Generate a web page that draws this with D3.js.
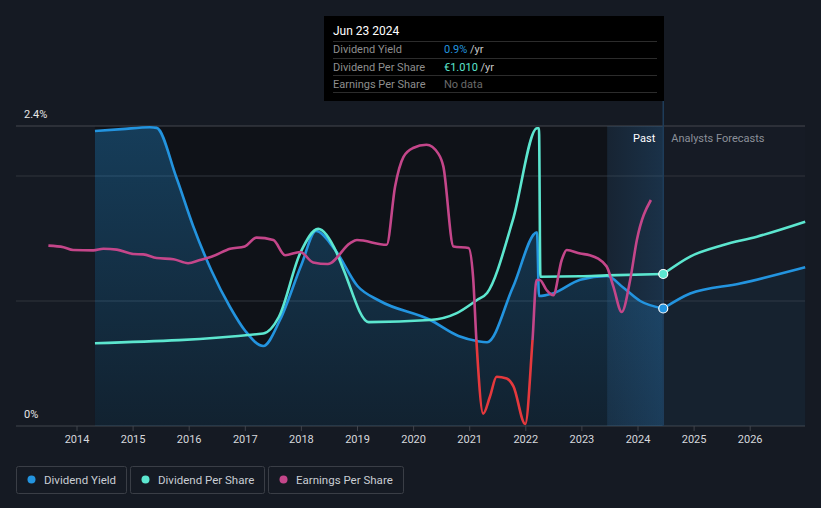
<!DOCTYPE html>
<html>
<head>
<meta charset="utf-8">
<script src="https://cdn.jsdelivr.net/npm/d3@7"></script>
<style>
  html, body { margin: 0; padding: 0; background: #151a23; }
  svg { display: block; font-family: Roboto, "Noto Sans", sans-serif; }
</style>
</head>
<body>
<svg id="chart" width="821" height="508"></svg>
<script>
// ---------- DATA ----------
const yearTicks = [2014, 2015, 2016, 2017, 2018, 2019, 2020, 2021, 2022, 2023, 2024, 2025, 2026];
const yieldTickLabels = ["0%", "2.4%"];

// Dividend yield (%), decimal year
const yieldYears = [2014.32, 2014.8, 2015.3, 2015.42, 2015.77, 2016.07, 2016.4, 2016.73, 2017.0, 2017.32, 2017.62, 2018.0, 2018.26, 2018.6, 2019.0, 2019.4, 2020.29, 2020.8, 2021.13, 2021.31, 2021.77, 2022.2, 2022.235, 2022.48, 2022.97, 2023.45, 2023.73, 2024.04, 2024.45];
const yieldValues = [2.36, 2.375, 2.39, 2.385, 1.99, 1.6, 1.24, 0.95, 0.76, 0.64, 0.85, 1.29, 1.56, 1.41, 1.12, 1.0, 0.85, 0.72, 0.68, 0.67, 1.11, 1.55, 1.04, 1.06, 1.17, 1.2, 1.11, 1.0, 0.94];
const yieldFcYears = [2024.45, 2024.93, 2025.82, 2026.98];
const yieldFcValues = [0.94, 1.06, 1.14, 1.27];

// Dividend per share (EUR)
const dpsYears = [2014.32, 2017.32, 2017.6, 2017.98, 2018.3, 2018.63, 2018.75, 2019.2, 2020.29, 2020.77, 2021.13, 2021.31, 2021.77, 2022.2, 2022.235, 2022.26, 2022.97, 2023.45, 2024.45];
const dpsValues = [0.55, 0.615, 0.726, 1.15, 1.31, 1.15, 1.04, 0.69, 0.704, 0.75, 0.837, 0.884, 1.369, 1.978, 1.978, 0.992, 0.995, 1.001, 1.01];
const dpsFcYears = [2024.45, 2024.93, 2025.52, 2026.12, 2026.98];
const dpsFcValues = [1.01, 1.126, 1.203, 1.258, 1.357];

// Earnings per share (EUR)
const epsYears = [2013.49, 2013.76, 2013.93, 2014.29, 2014.47, 2014.71, 2015.0, 2015.18, 2015.42, 2015.72, 2015.98, 2016.19, 2016.43, 2016.73, 2016.99, 2017.2, 2017.5, 2017.71, 2017.98, 2018.21, 2018.47, 2018.87, 2018.99, 2019.52, 2019.67, 2019.82, 2019.99, 2020.23, 2020.44, 2020.53, 2020.71, 2020.98, 2021.06, 2021.12, 2021.24, 2021.36, 2021.48, 2021.66, 2021.78, 2021.99, 2022.12, 2022.19, 2022.25, 2022.37, 2022.49, 2022.64, 2022.73, 2022.97, 2023.14, 2023.44, 2023.56, 2023.71, 2023.86, 2023.98, 2024.23];
const epsValues = [1.18, 1.16, 1.125, 1.12, 1.14, 1.13, 1.075, 1.07, 1.025, 1.01, 0.96, 1.0, 1.05, 1.14, 1.17, 1.28, 1.25, 1.06, 1.10, 0.97, 0.95, 1.21, 1.25, 1.19, 1.92, 2.29, 2.40, 2.44, 2.33, 2.17, 1.17, 1.15, 0.79, -0.01, -0.92, -0.71, -0.46, -0.48, -0.58, -1.05, 0.0, 0.75, 0.75, 0.625, 0.56, 1.0, 1.125, 1.08, 1.06, 0.92, 0.67, 0.35, 0.75, 1.25, 1.75];

const pastStart = 2014.32, bandStart = 2023.45, nowYear = 2024.45;

// ---------- LAYOUT ----------
const svg = d3.select("#chart");
const W = 821, H = 508;
const plotL = 16, plotR = 805, plotT = 126, plotB = 426;

const x = d3.scaleLinear().domain([2014, 2026]).range([77, 750.2]);
const yY = d3.scaleLinear().domain([0, 2.4]).range([plotB, plotT]);
const yD = d3.scaleLinear().domain([0, 2]).range([plotB, 125]);
const yE = d3.scaleLinear().domain([-1, 2.5]).range([420, 140]);

const C = {
  bg: "#151a23", past: "#0f1218", fc: "#161b25",
  blue: "#2394df", teal: "#5ce6cf", pink: "#c4468a", red: "#e5393d",
  grid: "#30343c", gridTop: "#44474e", axis: "#40444c"
};

svg.append("rect").attr("width", W).attr("height", H).attr("fill", C.bg);

const defs = svg.append("defs");
const g1 = defs.append("linearGradient").attr("id", "fillGrad")
  .attr("gradientUnits", "userSpaceOnUse").attr("x1", 0).attr("x2", 0).attr("y1", plotT).attr("y2", plotB);
g1.append("stop").attr("offset", 0).attr("stop-color", C.blue).attr("stop-opacity", 0.33);
g1.append("stop").attr("offset", 1).attr("stop-color", C.blue).attr("stop-opacity", 0.12);

const g2 = defs.append("linearGradient").attr("id", "bandGrad")
  .attr("x1", 0).attr("x2", 1).attr("y1", 0).attr("y2", 0);
g2.append("stop").attr("offset", 0).attr("stop-color", "#2a7cc0").attr("stop-opacity", 0.10);
g2.append("stop").attr("offset", 1).attr("stop-color", "#2a7cc0").attr("stop-opacity", 0.24);

// clip paths for EPS sign colouring
defs.append("clipPath").attr("id", "epsPos").append("rect")
  .attr("x", 0).attr("y", 0).attr("width", W).attr("height", yE(0));
defs.append("clipPath").attr("id", "epsNeg").append("rect")
  .attr("x", 0).attr("y", yE(0)).attr("width", W).attr("height", H - yE(0));

// backgrounds
svg.append("rect").attr("x", x(pastStart)).attr("y", plotT).attr("width", x(bandStart) - x(pastStart))
  .attr("height", plotB - plotT).attr("fill", C.past);
svg.append("rect").attr("x", x(nowYear)).attr("y", plotT).attr("width", plotR - x(nowYear))
  .attr("height", plotB - plotT).attr("fill", C.fc);

// gridlines
[0, 1, 2, 2.4].forEach(v => {
  svg.append("line").attr("x1", plotL).attr("x2", plotR).attr("y1", yY(v)).attr("y2", yY(v))
    .attr("stroke", v === 2.4 ? C.gridTop : (v === 0 ? C.axis : C.grid)).attr("stroke-width", 1);
});

// dividend yield area
const yieldPts = yieldYears.map((d, i) => [d, yieldValues[i]]);
const yieldFcPts = yieldFcYears.map((d, i) => [d, yieldFcValues[i]]);
const dpsPts = dpsYears.map((d, i) => [d, dpsValues[i]]);
const dpsFcPts = dpsFcYears.map((d, i) => [d, dpsFcValues[i]]);
const epsPts = epsYears.map((d, i) => [d, epsValues[i]]);

const area = d3.area().x(d => x(d[0])).y0(plotB).y1(d => yY(d[1])).curve(d3.curveMonotoneX);
svg.append("path").datum(yieldPts).attr("d", area).attr("fill", "url(#fillGrad)");
svg.append("path").datum(yieldFcPts).attr("d", area).attr("fill", C.blue).attr("fill-opacity", 0.06);

// highlight band
svg.append("rect").attr("x", x(bandStart)).attr("y", plotT).attr("width", x(nowYear) - x(bandStart))
  .attr("height", plotB - plotT).attr("fill", "url(#bandGrad)");
svg.append("line").attr("x1", x(nowYear)).attr("x2", x(nowYear)).attr("y1", 101).attr("y2", plotB)
  .attr("stroke", "#1f3d5a").attr("stroke-width", 1.5);

// x axis ticks + labels
yearTicks.forEach(t => {
  svg.append("line").attr("x1", x(t)).attr("x2", x(t)).attr("y1", plotB).attr("y2", plotB + 5)
    .attr("stroke", C.axis);
  svg.append("text").attr("x", x(t)).attr("y", 443).attr("text-anchor", "middle")
    .attr("font-size", 11).attr("fill", "#d5d8dd").text(t);
});

// y labels
svg.append("text").attr("x", 24).attr("y", 118).attr("font-size", 11).attr("fill", "#e6e6e6").text(yieldTickLabels[1]);
svg.append("text").attr("x", 24).attr("y", 418).attr("font-size", 11).attr("fill", "#e6e6e6").text(yieldTickLabels[0]);

// lines
const lineY = d3.line().x(d => x(d[0])).y(d => yY(d[1])).curve(d3.curveMonotoneX);
const lineD = d3.line().x(d => x(d[0])).y(d => yD(d[1])).curve(d3.curveMonotoneX);
const lineE = d3.line().x(d => x(d[0])).y(d => yE(d[1])).curve(d3.curveMonotoneX);

svg.append("path").datum(yieldPts).attr("d", lineY).attr("fill", "none").attr("stroke", C.blue).attr("stroke-width", 2.6);
svg.append("path").datum(yieldFcPts).attr("d", lineY).attr("fill", "none").attr("stroke", C.blue).attr("stroke-width", 2.6);
svg.append("path").datum(dpsPts).attr("d", lineD).attr("fill", "none").attr("stroke", C.teal).attr("stroke-width", 2.6);
svg.append("path").datum(dpsFcPts).attr("d", lineD).attr("fill", "none").attr("stroke", C.teal).attr("stroke-width", 2.6);
svg.append("path").datum(epsPts).attr("d", lineE).attr("fill", "none").attr("stroke", C.pink).attr("stroke-width", 2.6).attr("clip-path", "url(#epsPos)");
svg.append("path").datum(epsPts).attr("d", lineE).attr("fill", "none").attr("stroke", C.red).attr("stroke-width", 2.6).attr("clip-path", "url(#epsNeg)");

// current dots
svg.append("circle").attr("cx", x(nowYear)).attr("cy", yD(dpsValues[dpsValues.length - 1])).attr("r", 4.5)
  .attr("fill", C.teal).attr("stroke", "#ffffff").attr("stroke-width", 1.2);
svg.append("circle").attr("cx", x(nowYear)).attr("cy", yY(yieldValues[yieldValues.length - 1])).attr("r", 4.5)
  .attr("fill", C.blue).attr("stroke", "#ffffff").attr("stroke-width", 1.2);

// Past / Analysts Forecasts labels
svg.append("text").attr("x", x(nowYear) - 8).attr("y", 142).attr("text-anchor", "end")
  .attr("font-size", 11).attr("fill", "#ffffff").text("Past");
svg.append("text").attr("x", x(nowYear) + 8).attr("y", 142)
  .attr("font-size", 11).attr("fill", "#8b9099").text("Analysts Forecasts");

// tooltip
const tt = svg.append("g");
tt.append("rect").attr("x", 324).attr("y", 16).attr("width", 340).attr("height", 85).attr("fill", "#000000");
tt.append("text").attr("x", 333).attr("y", 35).attr("font-size", 12).attr("fill", "#ffffff").text("Jun 23 2024");
[41.5, 58.5, 75.5, 92.5].forEach(yy => {
  tt.append("line").attr("x1", 333).attr("x2", 657).attr("y1", yy).attr("y2", yy).attr("stroke", "#2c2c2c");
});
const rows = [
  {label: "Dividend Yield", val: "0.9%", col: C.blue, unit: " /yr"},
  {label: "Dividend Per Share", val: "€1.010", col: C.teal, unit: " /yr"},
  {label: "Earnings Per Share", val: "No data", col: "#6b6b6b", unit: ""}
];
rows.forEach((r, i) => {
  const by = 53 + i * 17.5;
  tt.append("text").attr("x", 333).attr("y", by).attr("font-size", 11).attr("fill", "#8e8e8e").text(r.label);
  const t = tt.append("text").attr("x", 444).attr("y", by).attr("font-size", 11);
  t.append("tspan").attr("fill", r.col).text(r.val);
  if (r.unit) t.append("tspan").attr("fill", "#c8c8c8").text(r.unit);
});

// legend
const legend = [
  {name: "Dividend Yield", col: C.blue, x0: 16, w: 110},
  {name: "Dividend Per Share", col: C.teal, x0: 130, w: 134},
  {name: "Earnings Per Share", col: C.pink, x0: 268, w: 135}
];
legend.forEach(l => {
  svg.append("rect").attr("x", l.x0 + 0.5).attr("y", 466.5).attr("width", l.w).attr("height", 27)
    .attr("rx", 2).attr("fill", "none").attr("stroke", "#3a3e46");
  svg.append("circle").attr("cx", l.x0 + 15.5).attr("cy", 479.5).attr("r", 4).attr("fill", l.col);
  svg.append("text").attr("x", l.x0 + 28).attr("y", 483.5).attr("font-size", 11.5).attr("fill", "#c9cdd3").text(l.name);
});
</script>
</body>
</html>
